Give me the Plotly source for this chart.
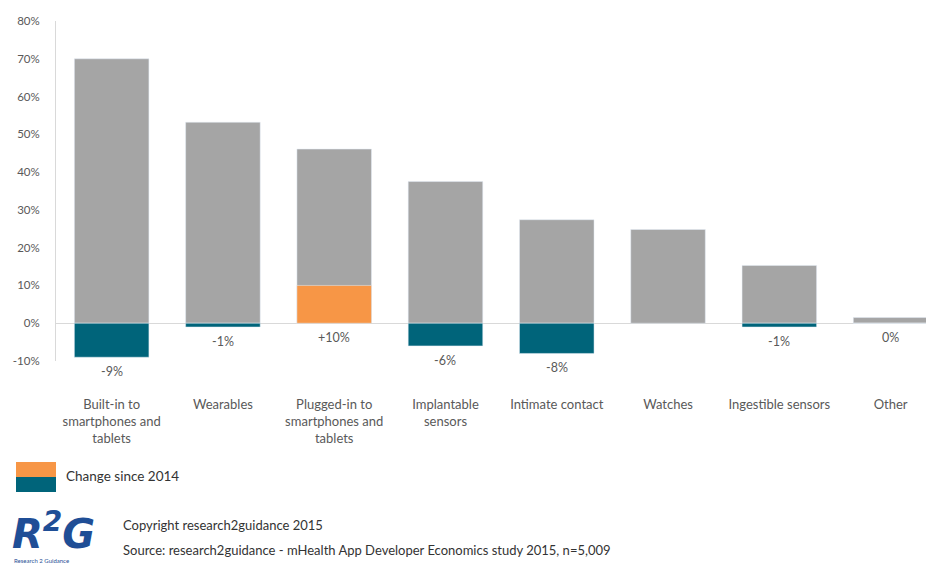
import plotly.graph_objects as go

categories = ["Built-in to<br>smartphones and<br>tablets", "Wearables",
              "Plugged-in to<br>smartphones and<br>tablets", "Implantable<br>sensors",
              "Intimate contact", "Watches", "Ingestible sensors", "Other"]
share_2015 = [70, 53.2, 46.1, 37.5, 27.4, 24.8, 15.3, 1.5]
change_since_2014 = [-9, -1, 10, -6, -8, None, -1, 0]
change_labels = ["-9%", "-1%", "+10%", "-6%", "-8%", "", "-1%", "0%"]
y_ticks = [-10, 0, 10, 20, 30, 40, 50, 60, 70, 80]

GRAY = "#A5A5A5"
TEAL = "#00647A"
ORANGE = "#F79646"
TXT = "#595959"
FONT = "Lato, 'Open Sans', sans-serif"

OFF = 8  # page body margin
W, H = 934 - OFF, 565 - OFF
ML, MR, MT, MB = 56 - OFF, 0, 21 - OFF, 204
PW, PH = W - ML - MR, H - MT - MB

def px(x):
    return (x - OFF - ML) / PW

def py(y):
    return (H - MB - (y - OFF)) / PH

xs = list(range(len(categories)))
fig = go.Figure()
fig.add_trace(go.Bar(x=xs, y=share_2015, marker_color=GRAY, width=0.67,
                     showlegend=False, hoverinfo="y"))
colors = [ORANGE if (v is not None and v > 0) else TEAL for v in change_since_2014]
fig.add_trace(go.Bar(x=xs, y=change_since_2014, marker_color=colors, width=0.67,
                     showlegend=False))

for x, v, lab in zip(xs, change_since_2014, change_labels):
    if v is None or lab == "":
        continue
    fig.add_annotation(x=x, y=min(v, 0), xref="x", yref="y", text=lab,
                       showarrow=False, yanchor="top", yshift=-5,
                       font=dict(size=12.5, color=TXT, family=FONT))

# legend
fig.add_shape(type="rect", xref="paper", yref="paper", x0=px(16), x1=px(56),
              y0=py(477), y1=py(462), fillcolor=ORANGE, line_width=0)
fig.add_shape(type="rect", xref="paper", yref="paper", x0=px(16), x1=px(56),
              y0=py(492), y1=py(477), fillcolor=TEAL, line_width=0)
fig.add_annotation(xref="paper", yref="paper", x=px(64), y=py(476), text="Change since 2014",
                   showarrow=False, xanchor="left", yanchor="middle",
                   font=dict(size=13.5, color="#333333", family=FONT))

# logo + source
fig.add_annotation(xref="paper", yref="paper", x=px(10), y=py(531),
                   text="<b><i>R<sup>2</sup>G</i></b>",
                   showarrow=False, xanchor="left", yanchor="middle",
                   font=dict(size=40, color="#1F4E96", family="'DejaVu Sans', sans-serif"))
fig.add_annotation(xref="paper", yref="paper", x=px(12), y=py(560), text="Research 2 Guidance",
                   showarrow=False, xanchor="left", yanchor="middle",
                   font=dict(size=6, color="#1F4E96", family=FONT))
fig.add_annotation(xref="paper", yref="paper", x=px(121), y=py(525),
                   text="Copyright research2guidance 2015",
                   showarrow=False, xanchor="left", yanchor="middle",
                   font=dict(size=13, color="#333333", family=FONT))
fig.add_annotation(xref="paper", yref="paper", x=px(121), y=py(550),
                   text="Source: research2guidance - mHealth App Developer Economics study 2015, n=5,009",
                   showarrow=False, xanchor="left", yanchor="middle",
                   font=dict(size=13, color="#333333", family=FONT))

fig.update_layout(
    width=W, height=H, barmode="overlay",
    margin=dict(l=ML, r=MR, t=MT, b=MB),
    paper_bgcolor="white", plot_bgcolor="white",
    font=dict(family=FONT, color=TXT),
    xaxis=dict(range=[-0.5, 7.39], tickvals=xs, ticktext=categories,
               showgrid=False, zeroline=False, showline=False, ticks="",
               ticklabelstandoff=34, tickfont=dict(size=13, color=TXT, family=FONT)),
    yaxis=dict(range=[-10, 80], tickvals=y_ticks, ticktext=[f"{t}%" for t in y_ticks],
               showgrid=False, zeroline=True, zerolinecolor="#D9D9D9", zerolinewidth=1,
               showline=True, linecolor="#D9D9D9", linewidth=1, ticks="",
               ticklabelstandoff=13, tickfont=dict(size=11.5, color=TXT, family=FONT)),
)

fig.write_html("out.html")
